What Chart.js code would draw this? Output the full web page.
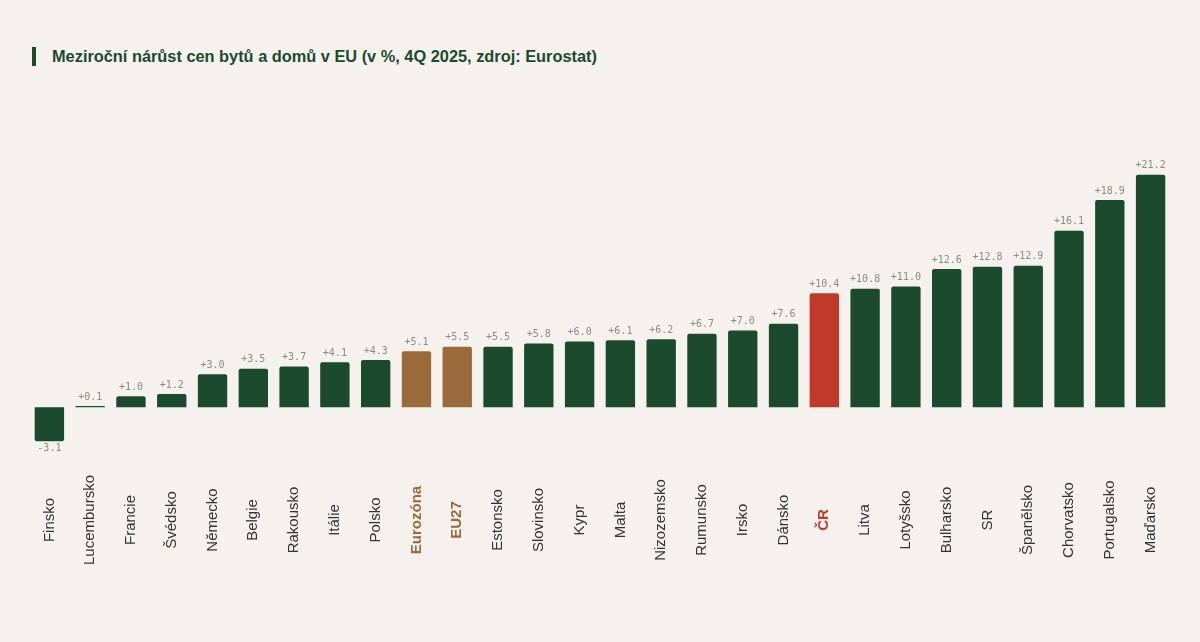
<!DOCTYPE html>
<html lang="cs">
<head>
<meta charset="utf-8">
<script src="https://cdn.jsdelivr.net/npm/chart.js@4/dist/chart.umd.min.js"></script>
<style>
  html, body { margin: 0; padding: 0; background: #f5f2ed; }
  #wrap { position: relative; width: 1200px; height: 642px; }
  h1 {
    position: absolute; left: 32px; top: 47px; margin: 0;
    padding-left: 16px; border-left: 4px solid #1b4a2e;
    font: bold 16.35px "Liberation Sans", Arial, sans-serif;
    color: #1b4a2e; line-height: 19px;
  }
  #chartBox { position: absolute; left: 0; top: 0; width: 1200px; height: 642px; }
</style>
</head>
<body>
<div id="wrap">
  <h1>Meziroční nárůst cen bytů a domů v EU (v %, 4Q 2025, zdroj: Eurostat)</h1>
  <div id="chartBox"><canvas id="priceChart"></canvas></div>
</div>
<script>
const countries = ['Finsko', 'Lucembursko', 'Francie', 'Švédsko', 'Německo', 'Belgie', 'Rakousko', 'Itálie',
    'Polsko', 'Eurozóna', 'EU27', 'Estonsko', 'Slovinsko', 'Kypr', 'Malta', 'Nizozemsko', 'Rumunsko',
    'Irsko', 'Dánsko', 'ČR', 'Litva', 'Lotyšsko', 'Bulharsko', 'SR', 'Španělsko', 'Chorvatsko',
    'Portugalsko', 'Maďarsko'];
const growth = [-3.1, 0.1, 1.0, 1.2, 3.0, 3.5, 3.7, 4.1, 4.3, 5.1, 5.5, 5.5, 5.8, 6.0, 6.1, 6.2, 6.7,
    7.0, 7.6, 10.4, 10.8, 11.0, 12.6, 12.8, 12.9, 16.1, 18.9, 21.2];
const euAggregates = ['Eurozóna', 'EU27'];
const homeCountry = 'ČR';

const GREEN = '#1b4a2e';
const BROWN = '#9a6a3a';
const RED = '#c0392b';

function barColor(name) {
    if (name === homeCountry) return RED;
    if (euAggregates.includes(name)) return BROWN;
    return GREEN;
}

function labelColor(name) {
    if (name === homeCountry) return RED;
    if (euAggregates.includes(name)) return BROWN;
    return '#333333';
}

// value labels above (or below) each bar
const valueLabels = {
    id: 'valueLabels',
    afterDatasetsDraw(chart) {
        const ctx = chart.ctx;
        const meta = chart.getDatasetMeta(0);
        ctx.save();
        ctx.font = '10px "DejaVu Sans Mono", monospace';
        ctx.fillStyle = '#8a8a8a';
        ctx.textAlign = 'center';
        meta.data.forEach((bar, i) => {
            const v = growth[i];
            const txt = (v >= 0 ? '+' : '') + v.toFixed(1);
            if (v >= 0) {
                ctx.textBaseline = 'bottom';
                ctx.fillText(txt, bar.x, bar.y - 4);
            } else {
                ctx.textBaseline = 'top';
                ctx.fillText(txt, bar.x, bar.y + 2);
            }
        });
        ctx.restore();
    }
};

// vertical category names, centred on one line below the chart area
const categoryLabels = {
    id: 'categoryLabels',
    afterDraw(chart) {
        const ctx = chart.ctx;
        const xScale = chart.scales.x;
        const midY = chart.chartArea.bottom + 58;
        ctx.save();
        ctx.textAlign = 'center';
        ctx.textBaseline = 'middle';
        countries.forEach((name, i) => {
            const bold = name === homeCountry || euAggregates.includes(name);
            ctx.font = (bold ? 'bold ' : '') + '15px "Liberation Sans", Arial, sans-serif';
            ctx.fillStyle = labelColor(name);
            ctx.save();
            ctx.translate(xScale.getPixelForValue(i), midY);
            ctx.rotate(-Math.PI / 2);
            ctx.fillText(name, 0, 0);
            ctx.restore();
        });
        ctx.restore();
    }
};

function createPriceChart() {
    const ctx = document.getElementById('priceChart').getContext('2d');

    new Chart(ctx, {
        type: 'bar',
        data: {
            labels: countries,
            datasets: [{
                data: growth,
                backgroundColor: countries.map(barColor),
                borderRadius: 2,
                barPercentage: 0.72,
                categoryPercentage: 1.0
            }]
        },
        options: {
            responsive: true,
            maintainAspectRatio: false,
            animation: false,
            layout: { padding: { left: 29, right: 29, top: 144, bottom: 180 } },
            plugins: {
                legend: { display: false },
                tooltip: { enabled: false }
            },
            scales: {
                x: {
                    display: false,
                    grid: { display: false }
                },
                y: {
                    display: false,
                    min: -5,
                    max: 24
                }
            }
        },
        plugins: [valueLabels, categoryLabels]
    });
}

createPriceChart();
</script>
</body>
</html>
